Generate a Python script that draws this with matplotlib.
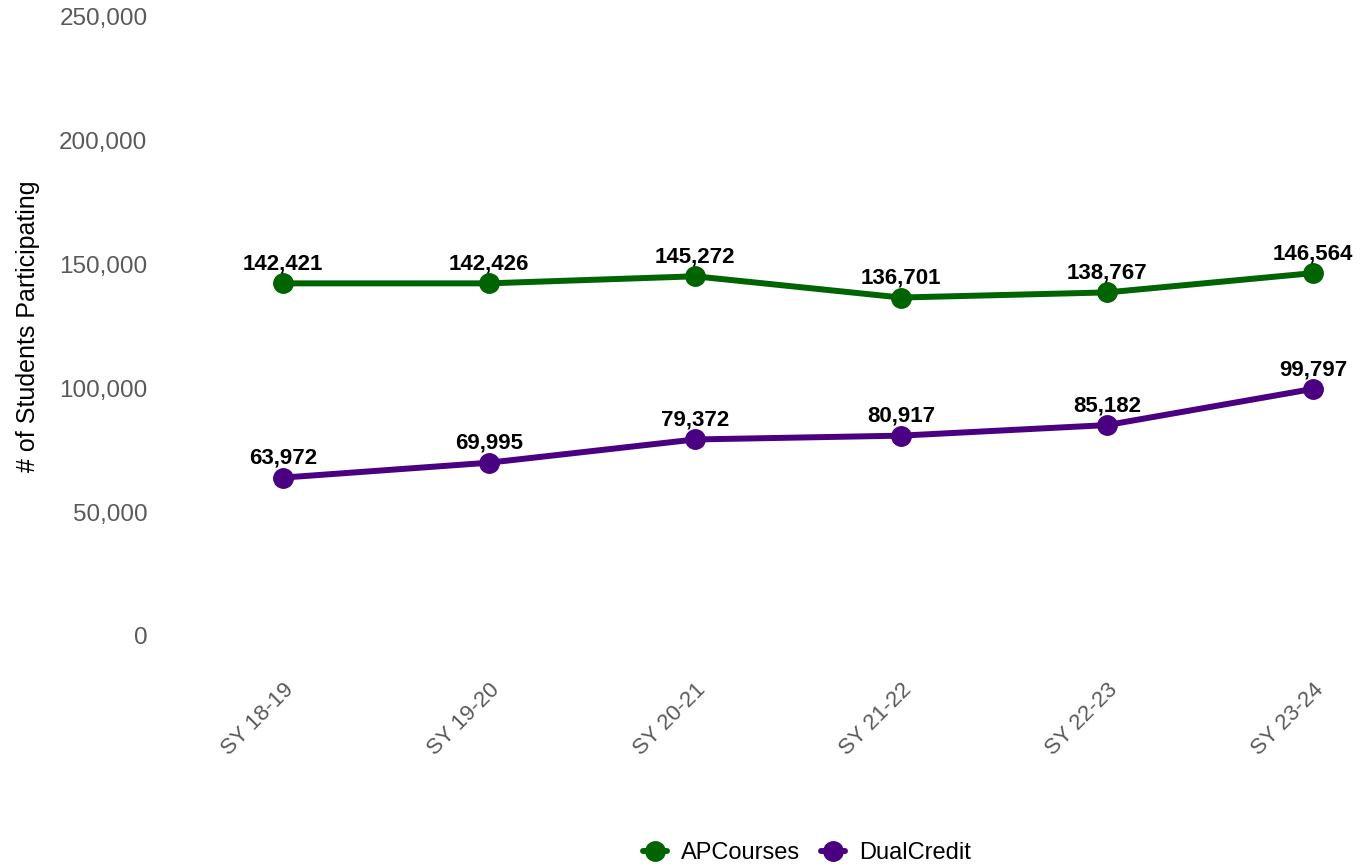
import matplotlib
matplotlib.use("Agg")
import matplotlib.pyplot as plt
from matplotlib.ticker import FuncFormatter

years = ["SY 18-19", "SY 19-20", "SY 20-21", "SY 21-22", "SY 22-23", "SY 23-24"]
ap_courses = [142421, 142426, 145272, 136701, 138767, 146564]
dual_credit = [63972, 69995, 79372, 80917, 85182, 99797]
y_ticks = [0, 50000, 100000, 150000, 200000, 250000]

plt.rcParams["font.family"] = ["Liberation Sans", "DejaVu Sans"]

fig = plt.figure(figsize=(13.63, 8.67), dpi=100)
W, H = 1363, 867
left_px, right_px, top_px, bottom_px = 160, 1350, 17, 636
ax = fig.add_axes([left_px / W, 1 - bottom_px / H, (right_px - left_px) / W, (bottom_px - top_px) / H])

x = list(range(len(years)))
series = [("APCourses", ap_courses, "#006400"), ("DualCredit", dual_credit, "#4B0082")]
for name, vals, color in series:
    ax.plot(x, vals, color=color, lw=4.3, marker="o", ms=14, label=name,
            solid_capstyle="round", clip_on=False)
    for xi, v in zip(x, vals):
        ax.annotate(f"{v:,}", (xi, v), xytext=(0, 10), textcoords="offset points",
                    ha="center", va="baseline", fontsize=16, fontweight="bold", color="black")

ax.set_xlim((left_px - 283) / 206, (right_px - 283) / 206)
ax.set_ylim(0, 250000)
ax.set_yticks(y_ticks)
ax.yaxis.set_major_formatter(FuncFormatter(lambda v, p: f"{int(v):,}"))
ax.set_xticks(x)
ax.set_xticklabels(years, rotation=45, ha="right", rotation_mode="anchor")
ax.tick_params(axis="both", length=0, labelcolor="#595959")
ax.tick_params(axis="x", pad=31, labelsize=16)
ax.tick_params(axis="y", pad=9, labelsize=17.5)
ax.set_ylabel("# of Students Participating", fontsize=18, color="black", labelpad=14)
for s in ax.spines.values():
    s.set_visible(False)

fig.legend(loc="center", bbox_to_anchor=(807 / W, 1 - 853 / H), ncol=2, frameon=False,
           fontsize=17, handlelength=1.0, columnspacing=0.9, handletextpad=0.6)

fig.savefig("out.png", dpi=100)
